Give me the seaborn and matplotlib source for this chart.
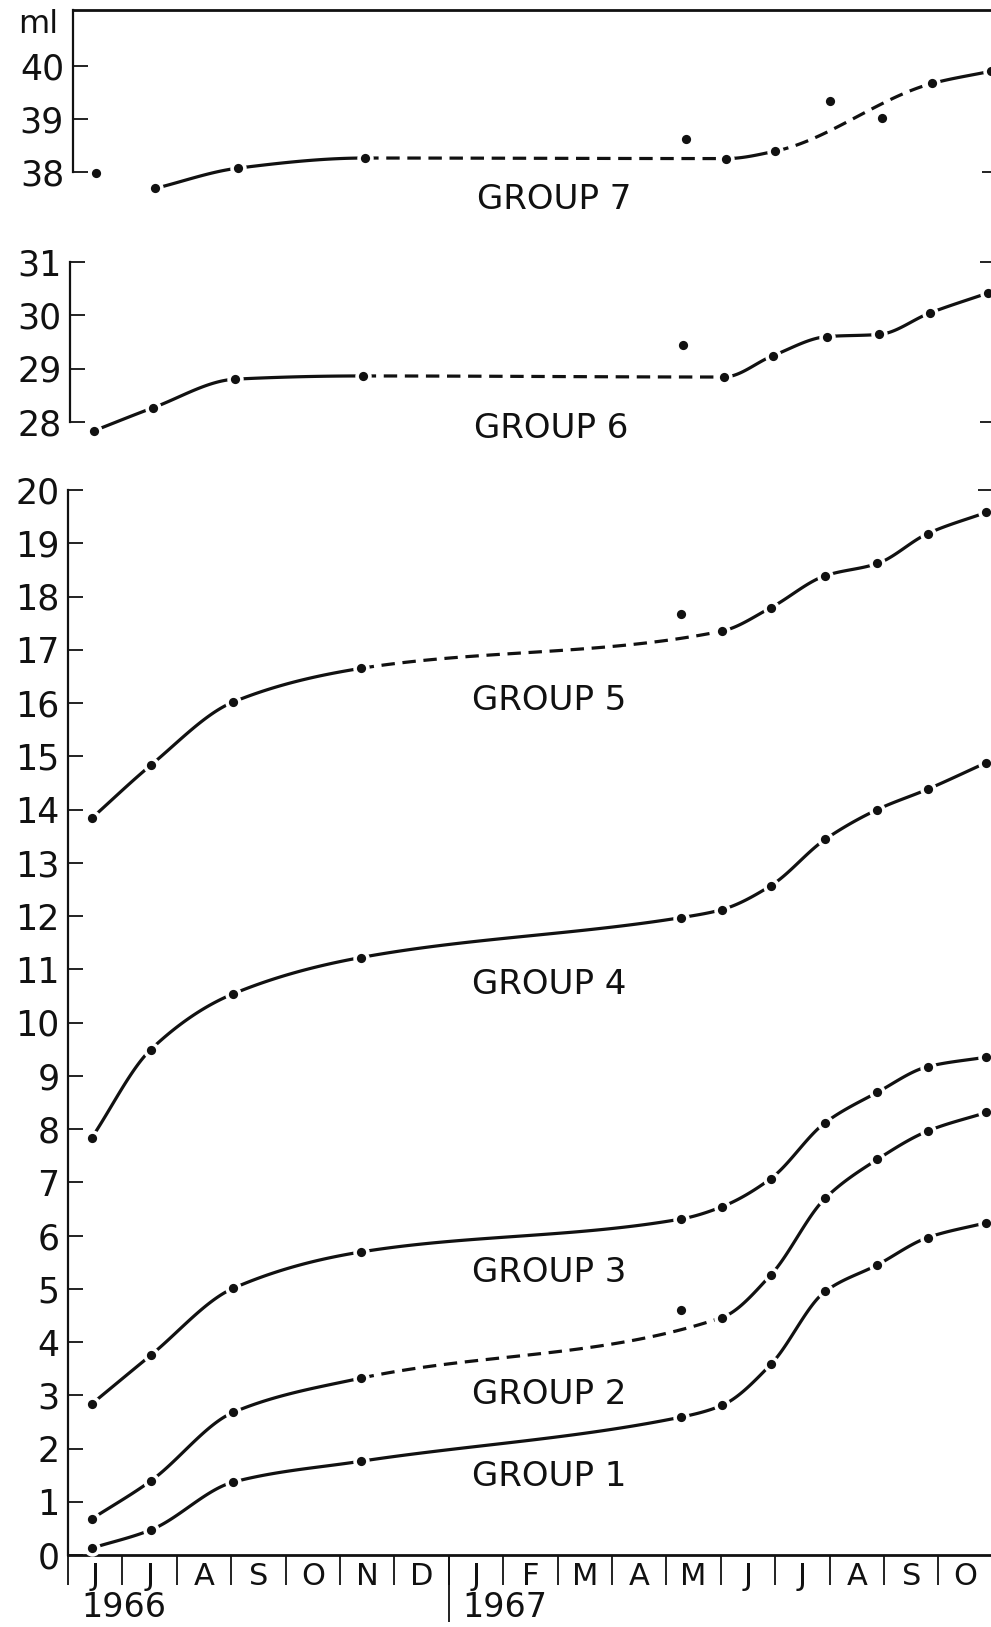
import numpy as np
import matplotlib
matplotlib.use("Agg")
import matplotlib.pyplot as plt
import seaborn as sns

# ---------------- data ----------------
month_labels = ["J", "J", "A", "S", "O", "N", "D", "J", "F", "M", "A", "M", "J", "J", "A", "S", "O"]
year_labels = ["1966", "1967"]
year_start_month = [0, 7]            # month index where each year begins (Jun 1966 = 0)

# sampling times in months after 1 June 1966
sample_month = [0.44, 1.52, 3.04, 5.38, 11.27, 12.02, 12.92, 13.92, 14.88, 15.8, 16.88]

group1 = [0.13, 0.47, 1.37, 1.76, 2.59, 2.81, 3.58, 4.95, 5.45, 5.96, 6.24]
group2 = [0.68, 1.39, 2.68, 3.32, 4.60, 4.46, 5.26, 6.70, 7.43, 7.96, 8.31]
group3 = [2.84, 3.75, 5.01, 5.69, 6.31, 6.54, 7.07, 8.12, 8.69, 9.17, 9.35]
group4 = [7.84, 9.49, 10.54, 11.22, 11.97, 12.12, 12.57, 13.44, 14.00, 14.38, 14.88]
group5 = [13.84, 14.83, 16.02, 16.65, 17.67, 17.35, 17.79, 18.39, 18.62, 19.18, 19.58]
group6 = [27.83, 28.26, 28.80, 28.86, 29.45, 28.84, 29.24, 29.60, 29.64, 30.04, 30.42]
group7 = [37.99, 37.70, 38.08, 38.27, 38.62, 38.26, 38.40, 39.34, 39.03, 39.67, 39.90]

# which samples the drawn curve passes through, and where dashed segments start
g1_curve, g1_dashed = list(range(11)), []
g2_curve, g2_dashed = [0, 1, 2, 3, 5, 6, 7, 8, 9, 10], [3]
g3_curve, g3_dashed = list(range(11)), []
g4_curve, g4_dashed = list(range(11)), []
g5_curve, g5_dashed = [0, 1, 2, 3, 5, 6, 7, 8, 9, 10], [3]
g6_curve, g6_dashed = [0, 1, 2, 3, 5, 6, 7, 8, 9, 10], [3]
g7_curve, g7_dashed = [1, 2, 3, 5, 6, 9, 10], [3, 6]

group_names = ["GROUP 1", "GROUP 2", "GROUP 3", "GROUP 4", "GROUP 5", "GROUP 6", "GROUP 7"]

# ---------------- style ----------------
sns.set_theme(style="white")
plt.rcParams["font.family"] = ["DejaVu Sans"]
INK = "#111111"
LW = 2.3
DASH = (0, (4.2, 2.4))

W, H = 991, 1627
K = 53.25      # px per ml
MW = 54.4      # px per month
NMONTH = 17

fig = plt.figure(figsize=(W / 100, H / 100), dpi=100)


def make_axes(left_px, ylo, yhi, top_px):
    h_px = (yhi - ylo) * K
    w_px = NMONTH * MW
    ax = fig.add_axes([left_px / W, 1 - (top_px + h_px) / H, w_px / W, h_px / H])
    ax.set_xlim(0, NMONTH)
    ax.set_ylim(ylo, yhi)
    ax.set_facecolor("none")
    for s in ax.spines.values():
        s.set_color(INK)
        s.set_linewidth(1.6)
    return ax


def pchip(x, y, xs):
    x = np.asarray(x, float)
    y = np.asarray(y, float)
    h = np.diff(x)
    d = np.diff(y) / h
    n = len(x)
    m = np.zeros(n)
    for k in range(1, n - 1):
        if d[k - 1] * d[k] <= 0:
            m[k] = 0.0
        else:
            w1 = 2 * h[k] + h[k - 1]
            w2 = h[k] + 2 * h[k - 1]
            m[k] = (w1 + w2) / (w1 / d[k - 1] + w2 / d[k])
    m[0] = d[0]
    m[-1] = d[-1]
    xs = np.asarray(xs, float)
    idx = np.clip(np.searchsorted(x, xs) - 1, 0, n - 2)
    t = (xs - x[idx]) / h[idx]
    h00 = 2 * t**3 - 3 * t**2 + 1
    h10 = t**3 - 2 * t**2 + t
    h01 = -2 * t**3 + 3 * t**2
    h11 = t**3 - t**2
    return h00 * y[idx] + h10 * h[idx] * m[idx] + h01 * y[idx + 1] + h11 * h[idx] * m[idx + 1]


def draw_group(ax, vals, curve, dashed):
    x = np.asarray(sample_month)
    y = np.asarray(vals)
    cx, cy = x[curve], y[curve]
    for j in range(len(curve) - 1):
        xs = np.linspace(cx[j], cx[j + 1], 80)
        ys = pchip(cx, cy, xs)
        n_before = len(ax.lines)
        sns.lineplot(x=xs, y=ys, ax=ax, color=INK, linewidth=LW, sort=False,
                     estimator=None, legend=False, zorder=2)
        for ln in ax.lines[n_before:]:
            ln.set_linestyle(DASH if curve[j] in dashed else "-")
            ln.set_solid_capstyle("round")
    sns.scatterplot(x=x, y=y, ax=ax, s=140, color="white", linewidth=0,
                    legend=False, zorder=3, clip_on=False)
    sns.scatterplot(x=x, y=y, ax=ax, s=44, color=INK, linewidth=0,
                    legend=False, zorder=4, clip_on=False)


def y_style(ax, ticks, lo, hi, right_caps):
    ax.set_yticks(ticks)
    ax.set_yticklabels([str(t) for t in ticks])
    ax.tick_params(axis="y", direction="in", length=11, width=1.3, color=INK,
                   labelsize=25, labelcolor=INK, pad=6, left=True)
    ax.spines["left"].set_bounds(lo, hi)
    ax.spines["right"].set_visible(False)
    sec = ax.secondary_yaxis("right")
    sec.set_yticks(right_caps)
    sec.tick_params(direction="in", length=11, width=1.3, color=INK, labelright=False)
    sec.spines["right"].set_visible(False)


# ---------------- top panel : group 7 ----------------
ax7 = make_axes(72.5, 37.43, 41.05, 10)
draw_group(ax7, group7, g7_curve, g7_dashed)
y_style(ax7, [38, 39, 40], 38, 41.05, [38])
ax7.spines["bottom"].set_visible(False)
ax7.spines["top"].set_linewidth(2.0)
ax7.set_xticks([])
ax7.annotate("ml", xy=(0, 40.78), xycoords=("axes fraction", "data"), xytext=(-10, 0),
             textcoords="offset points", ha="right", va="center", fontsize=23, color=INK)
ax7.text(8.85, 37.50, group_names[6], ha="center", va="center", fontsize=24.5, color=INK)

# ---------------- middle panel : group 6 ----------------
ax6 = make_axes(70, 27.55, 31.0, 262)
draw_group(ax6, group6, g6_curve, g6_dashed)
y_style(ax6, [28, 29, 30, 31], 28, 31, [28, 31])
ax6.spines["bottom"].set_visible(False)
ax6.spines["top"].set_visible(False)
ax6.set_xticks([])
ax6.text(8.85, 27.88, group_names[5], ha="center", va="center", fontsize=24.5, color=INK)

# ---------------- bottom panel : groups 1-5 ----------------
axb = make_axes(68, 0, 20, 490)
for vals, curve, dashed in [(group1, g1_curve, g1_dashed), (group2, g2_curve, g2_dashed),
                            (group3, g3_curve, g3_dashed), (group4, g4_curve, g4_dashed),
                            (group5, g5_curve, g5_dashed)]:
    draw_group(axb, vals, curve, dashed)
y_style(axb, list(range(0, 21)), 0, 20, [20])
axb.spines["top"].set_visible(False)
axb.spines["bottom"].set_linewidth(2.0)

centers = np.arange(NMONTH) + 0.5
axb.set_xticks(centers)
axb.set_xticklabels(month_labels)
axb.set_xticks(np.arange(NMONTH + 1), minor=True)
axb.tick_params(axis="x", which="major", length=0, labelsize=22, labelcolor=INK, pad=5)
axb.tick_params(axis="x", which="minor", direction="out", length=21.5, width=1.3,
                color=INK, bottom=True)

sec_x = axb.secondary_xaxis("bottom")
sec_x.set_xticks([year_start_month[1]])
sec_x.tick_params(direction="out", length=48, width=1.3, color=INK, labelbottom=False)
sec_x.spines["bottom"].set_visible(False)

for yl, ym in zip(year_labels, year_start_month):
    axb.annotate(yl, xy=(ym + 0.25, 0), xycoords=("data", "axes fraction"), xytext=(0, -26),
                 textcoords="offset points", ha="left", va="top", fontsize=24, color=INK)

label_y = [1.48, 3.02, 5.30, 10.71, 16.04]
for name, ly in zip(group_names[:5], label_y):
    axb.text(8.85, ly, name, ha="center", va="center", fontsize=24.5, color=INK)

fig.savefig("out.png", dpi=100)
